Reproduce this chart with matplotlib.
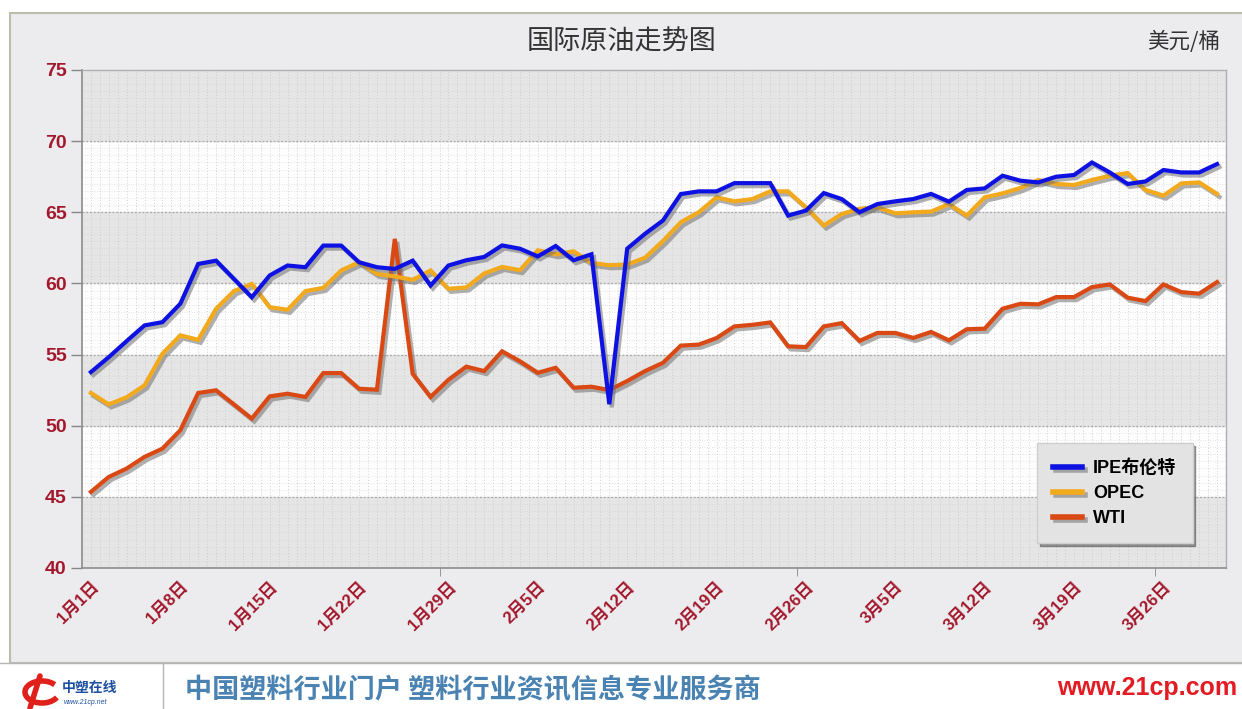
import matplotlib

matplotlib.use("Agg")
import matplotlib.pyplot as plt
import matplotlib.patheffects as pe
from matplotlib.lines import Line2D
from matplotlib.patches import Rectangle, Arc
import numpy as np

plt.rcParams["font.family"] = ["Liberation Sans", "Noto Sans CJK SC"]

# daily closing prices, USD per barrel (trading days, 1/1 .. 3/30)
ipe = [53.77, 54.82, 55.95, 57.05, 57.28, 58.57, 61.37, 61.6, 60.32, 59.03,
       60.56, 61.26, 61.14, 62.66, 62.66, 61.49, 61.14, 61.02, 61.6, 59.85,
       61.26, 61.63, 61.86, 62.67, 62.44, 61.9, 62.63, 61.63, 62.05, 51.51,
       62.44, 63.49, 64.42, 66.28, 66.47, 66.47, 67.05, 67.05, 67.05, 64.77,
       65.12, 66.35, 65.93, 65.0, 65.58, 65.77, 65.93, 66.29, 65.75, 66.57,
       66.68, 67.57, 67.22, 67.1, 67.5, 67.62, 68.5, 67.8, 66.99, 67.17,
       67.97, 67.8, 67.8, 68.39]
opec = [52.3, 51.5, 52.0, 52.84, 55.06, 56.35, 56.04, 58.22, 59.46, 59.97,
        58.33, 58.15, 59.46, 59.69, 60.91, 61.49, 60.67, 60.49, 60.25, 60.91,
        59.62, 59.72, 60.7, 61.16, 60.93, 62.33, 62.05, 62.26, 61.44, 61.28,
        61.33, 61.81, 62.98, 64.3, 65.0, 66.05, 65.77, 65.93, 66.47, 66.47,
        65.35, 64.07, 64.88, 65.25, 65.35, 64.93, 65.0, 65.05, 65.58, 64.77,
        66.05, 66.33, 66.71, 67.27, 66.99, 66.92, 67.27, 67.57, 67.76, 66.57,
        66.17, 67.03, 67.1, 66.29]
wti = [45.35, 46.4, 46.99, 47.81, 48.39, 49.68, 52.3, 52.49, 51.5, 50.5,
       52.06, 52.25, 52.02, 53.7, 53.7, 52.6, 52.53, 63.13, 53.65, 52.02,
       53.23, 54.15, 53.84, 55.23, 54.53, 53.72, 54.07, 52.67, 52.74, 52.51,
       53.14, 53.84, 54.42, 55.63, 55.7, 56.16, 56.98, 57.09, 57.26, 55.58,
       55.53, 56.98, 57.21, 55.96, 56.52, 56.52, 56.17, 56.59, 56.0, 56.78,
       56.82, 58.22, 58.57, 58.53, 59.04, 59.04, 59.74, 59.93, 59.0, 58.76,
       59.93, 59.39, 59.28, 60.09]
date_labels = ["1月1日", "1月8日", "1月15日", "1月22日", "1月29日", "2月5日",
               "2月12日", "2月19日", "2月26日", "3月5日", "3月12日", "3月19日",
               "3月26日"]
series_names = ["IPE布伦特", "OPEC", "WTI"]
y_ticks = [40, 45, 50, 55, 60, 65, 70, 75]

W, H = 1242, 709
fig = plt.figure(figsize=(W / 100, H / 100), dpi=100)
fig.patch.set_facecolor("white")


def fx(px):
    return px / W


def fy(py):
    return 1 - py / H


# background frame
bg = fig.add_axes([0, 0, 1, 1], zorder=0)
bg.set_xlim(0, W)
bg.set_ylim(H, 0)
bg.axis("off")
bg.add_patch(Rectangle((10, 13), 1240, 650, facecolor="#ececee",
                       edgecolor="#bdbdae", linewidth=1.5))
bg.plot([0, W], [663, 663], color="#b5b5b5", lw=1)
bg.plot([163, 163], [663, H], color="#b5b5b5", lw=1)
# simple logo mark
bg.add_patch(Arc((42, 692), 34, 22, theta1=20, theta2=330, color="#e0201b", lw=4))
bg.plot([40, 30], [676, 708], color="#e0201b", lw=4, solid_capstyle="round")

dark_red = "#a3182c"
fig.text(fx(622), fy(42), "国际原油走势图", ha="center", va="center",
         fontsize=19.5, color="#333333", family=["Noto Sans CJK SC"])
fig.text(fx(1220), fy(42), "美元/桶", ha="right", va="center",
         fontsize=15.5, color="#333333", family=["Noto Sans CJK SC"])
fig.text(fx(62), fy(688), "中塑在线", ha="left", va="center", fontsize=10,
         color="#1d4fa0", weight="bold", style="italic")
fig.text(fx(64), fy(703), "www.21cp.net", ha="left", va="center", fontsize=5,
         color="#1d4fa0", style="italic")
fig.text(fx(185), fy(690), "中国塑料行业门户 塑料行业资讯信息专业服务商",
         ha="left", va="center", fontsize=19.5, color="#4a82b2",
         family=["Noto Sans CJK SC"], weight="bold")
fig.text(fx(1237), fy(688), "www.21cp.com", ha="right", va="center",
         fontsize=18, color="#e31b23", weight="bold")

# main chart
ax = fig.add_axes([fx(82), fy(568), (1226 - 82) / W, (568 - 70) / H], zorder=2)
ax.set_facecolor("#fdfdfd")
n = len(ipe)
x = np.arange(n)
ax.set_xlim(-0.5, n - 0.5)
ax.set_ylim(40, 75)

for lo in range(40, 75, 10):
    ax.axhspan(lo, lo + 5, color="#e5e5e5", zorder=0)
for gx in np.arange(-0.5, n, 0.5):
    ax.axvline(gx, color="#c4c4c4", lw=0.6, ls=(0, (1, 2.5)), zorder=0.5)
for gy in np.arange(40, 75, 0.5):
    ax.axhline(gy, color="#d0d0d0", lw=0.5, ls=(0, (1, 2.5)), zorder=0.5)
for gy in y_ticks[1:-1]:
    ax.axhline(gy, color="#a8a8a8", lw=0.9, ls=(0, (1.5, 1.5)), zorder=0.6)

colors = ["#0d12e3", "#f2aa1c", "#da4813"]
shadow = [pe.SimpleLineShadow(offset=(1.8, -2.2), shadow_color="#6f6f6f", alpha=0.55),
          pe.Normal()]
for vals, col, name in zip([wti, opec, ipe], colors[::-1], series_names[::-1]):
    ax.plot(x, vals, color=col, lw=3, solid_joinstyle="miter", zorder=3,
            path_effects=shadow, label=name)

ax.set_yticks(y_ticks)
ax.set_yticklabels([str(v) for v in y_ticks], color=dark_red, fontsize=14,
                   weight="bold")
ax.tick_params(axis="y", length=8, color="#888888", width=1, pad=3)

ax.set_xticks(x[::5])
ax.set_xticklabels(date_labels, rotation=45, ha="right", va="top",
                   rotation_mode="anchor", color=dark_red, fontsize=12,
                   weight="bold")
ax.tick_params(axis="x", which="major", length=0, pad=8)
ax.set_xticks([19.5, 39.5, 59.5], minor=True)
ax.tick_params(axis="x", which="minor", length=6, color="#888888")

for side in ["left", "bottom"]:
    ax.spines[side].set_color("#8c8c8c")
    ax.spines[side].set_linewidth(1.2)
for side in ["top", "right"]:
    ax.spines[side].set_color("#b0b0b0")
    ax.spines[side].set_linewidth(1)

handles = [Line2D([0], [0], color=c, lw=4, path_effects=shadow) for c in colors]
leg = ax.legend(handles, series_names, loc="upper left",
                bbox_to_anchor=(0.835, 0.251), borderaxespad=0, frameon=True,
                fancybox=False, shadow=True, prop={"size": 13, "weight": "bold"},
                handlelength=1.6, handletextpad=0.6, labelspacing=0.45,
                borderpad=0.9)
leg.get_frame().set_facecolor("#e3e3e3")
leg.get_frame().set_edgecolor("#cfcfcf")
leg.get_frame().set_alpha(1)
leg.set_zorder(5)
# widen the legend box a little on the right, as in the original
leg._legend_box.sep = 0
fig.canvas.draw()
bb = leg.get_frame().get_bbox()
leg.get_frame().set_width(bb.width + 14)

fig.savefig("out.png", dpi=100)
